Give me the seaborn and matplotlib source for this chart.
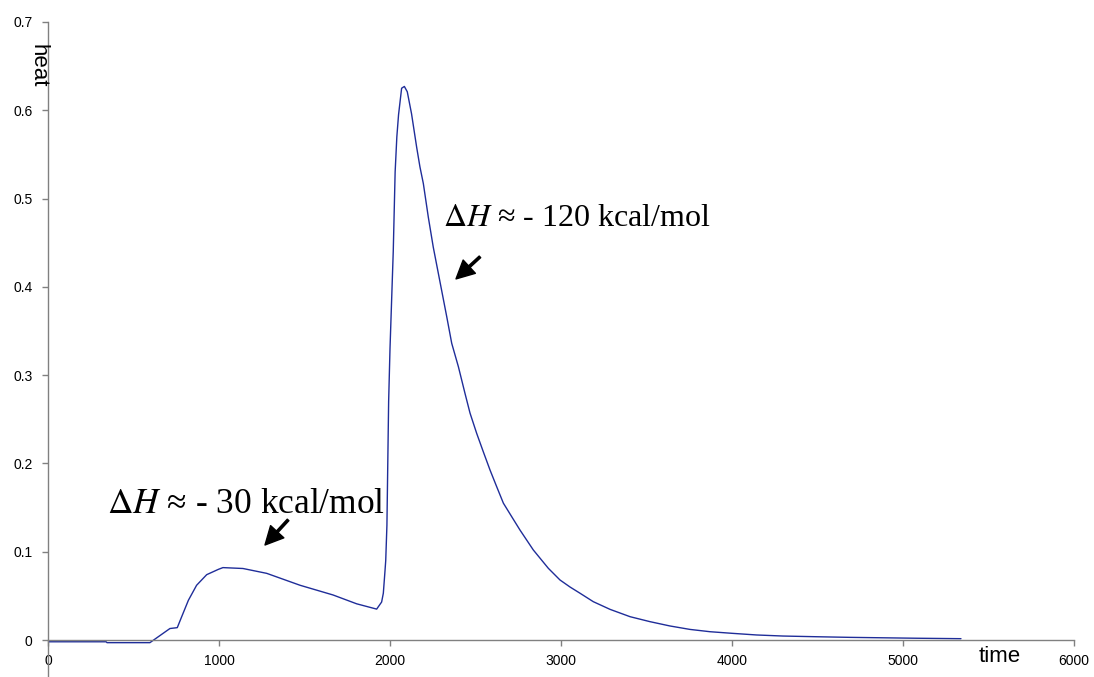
import numpy as np
import pandas as pd
import matplotlib
matplotlib.use('Agg')
import matplotlib.pyplot as plt
import seaborn as sns

# heat flow trace
time = [0, 340, 345, 596, 713, 756, 781, 821, 869, 928, 996, 1023, 1140, 1279,
        1474, 1667, 1805, 1922, 1951, 1961, 1971, 1975, 1982, 1992, 2000, 2019,
        2030, 2040, 2050, 2068, 2084, 2101, 2126, 2156, 2175, 2195, 2224, 2253,
        2302, 2332, 2361, 2400, 2439, 2468, 2507, 2546, 2585, 2624, 2663, 2712,
        2760, 2838, 2926, 2994, 3053, 3111, 3189, 3287, 3404, 3520, 3637, 3754,
        3871, 4006, 4144, 4298, 4495, 4690, 5080, 5339]
heat = [-0.002, -0.002, -0.003, -0.003, 0.013, 0.014, 0.026, 0.045, 0.062, 0.074,
        0.080, 0.082, 0.081, 0.0755, 0.062, 0.051, 0.041, 0.035, 0.043, 0.053,
        0.079, 0.09, 0.13, 0.27, 0.33, 0.44, 0.53, 0.57, 0.595, 0.625, 0.627,
        0.621, 0.596, 0.558, 0.536, 0.517, 0.479, 0.445, 0.396, 0.366, 0.336,
        0.3095, 0.279, 0.257, 0.234, 0.213, 0.1925, 0.1736, 0.155, 0.1396,
        0.1246, 0.102, 0.0812, 0.068, 0.060, 0.053, 0.0434, 0.0347, 0.0264,
        0.0208, 0.0159, 0.012, 0.0094, 0.0075, 0.0057, 0.0045, 0.0037, 0.003,
        0.002, 0.0015]

x_ticks = [0, 1000, 2000, 3000, 4000, 5000, 6000]
y_ticks = [0, 0.1, 0.2, 0.3, 0.4, 0.5, 0.6, 0.7]
y_tick_labels = ['0', '0.1', '0.2', '0.3', '0.4', '0.5', '0.6', '0.7']

notes = [r'$\Delta H$' + ' \u2248 - 30 kcal/mol', r'$\Delta H$' + ' \u2248 - 120 kcal/mol']
note_xy = [(345, 0.1438), (2310, 0.469)]
note_size = [25.5, 23]
arrow_from = [(1404, 0.136), (2526, 0.434)]
arrow_to = [(1269, 0.1076), (2386, 0.409)]

df = pd.DataFrame({'time': time, 'heat': heat})

sns.set_style('white')
plt.rcParams['font.family'] = ['Liberation Sans', 'DejaVu Sans']
plt.rcParams['mathtext.fontset'] = 'stix'

fig = plt.figure(figsize=(10.94, 6.77), dpi=100)
ax = fig.add_axes([48 / 1094, 0, 1026 / 1094, 1 - 22 / 677])

sns.lineplot(data=df, x='time', y='heat', ax=ax, color='#1f2d99', linewidth=1.0, sort=False)

ax.set_xlim(0, 6000)
ax.set_ylim(-37 / 883, 0.7)
ax.set_xticks(x_ticks)
ax.set_xticklabels([str(t) for t in x_ticks])
ax.set_yticks(y_ticks)
ax.set_yticklabels(y_tick_labels)
ax.set_xlabel('')
ax.set_ylabel('')

for s in ['top', 'right']:
    ax.spines[s].set_visible(False)
ax.spines['bottom'].set_position(('data', 0))
for s in ['left', 'bottom']:
    ax.spines[s].set_color('#808080')
    ax.spines[s].set_linewidth(1.0)
ax.tick_params(axis='both', which='major', bottom=True, left=True, direction='out',
               length=4, width=1, color='#808080', labelsize=10, labelcolor='black')
ax.tick_params(axis='x', pad=6)
ax.tick_params(axis='y', pad=7)

ax.text(5567, -0.019, 'time', fontsize=16, ha='center', va='center', color='black')
ax.text(-58, 0.650, 'heat', fontsize=16, ha='center', va='center', rotation=270,
        clip_on=False, color='black')

for txt, xy, fs, a0, a1 in zip(notes, note_xy, note_size, arrow_from, arrow_to):
    ax.text(xy[0], xy[1], txt, fontsize=fs, ha='left', va='baseline', color='black',
            family=['Liberation Serif', 'DejaVu Serif'])
    ax.annotate('', xy=a1, xytext=a0,
                arrowprops=dict(facecolor='black', edgecolor='black', width=1.6,
                                headwidth=13, headlength=13, shrink=0))

fig.savefig('out.png', dpi=100)
